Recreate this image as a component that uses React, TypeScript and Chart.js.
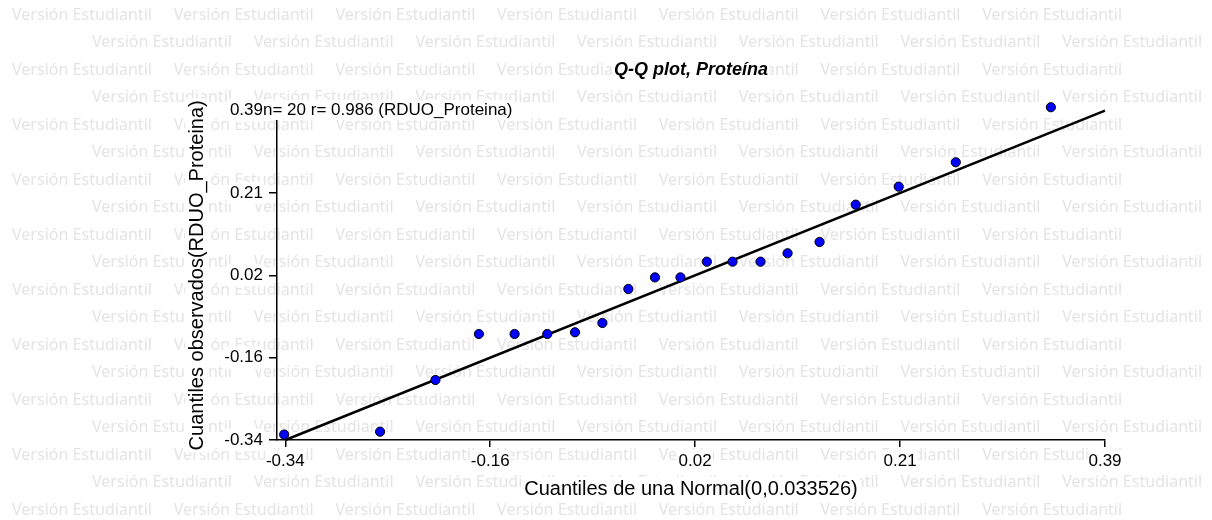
import { useEffect, useRef } from "react";
import { Chart, registerables } from "chart.js";

Chart.register(...registerables);

// ---- Data ----
const normalQuantiles = [
  -0.341, -0.2556, -0.2063, -0.1676, -0.1358, -0.1067, -0.082, -0.0576, -0.0345, -0.0108,
  0.0119, 0.0354, 0.0583, 0.0832, 0.1073, 0.1358, 0.168, 0.2063, 0.2571, 0.3418,
];
const observedQuantiles = [
  -0.328, -0.3216, -0.207, -0.105, -0.105, -0.105, -0.1012, -0.0806, -0.0052, 0.0205,
  0.0205, 0.0553, 0.0553, 0.0553, 0.074, 0.099, 0.1817, 0.2216, 0.2757, 0.3977,
];
const refLineX = [-0.34, 0.39];
const refLineY = [-0.34, 0.39];
const xTickValues = [-0.34, -0.1575, 0.025, 0.2075, 0.39];
const xTickLabels = ["-0.34", "-0.16", "0.02", "0.21", "0.39"];
const yTickValues = [-0.34, -0.1575, 0.025, 0.2075, 0.39];
const yTickLabels = ["-0.34", "-0.16", "0.02", "0.21", "0.39"];

const titleText = "Q-Q plot, Proteína";
const infoText = "n= 20 r= 0.986 (RDUO_Proteina)";
const xTitle = "Cuantiles de una Normal(0,0.033526)";
const yTitle = "Cuantiles observados(RDUO_Proteina)";
const watermarkText = "Versión Estudiantil";

const FONT = "'Liberation Sans', Arial, sans-serif";
const X_TITLE_Y = 489;

const watermarkPlugin = {
  id: "watermark",
  beforeDraw(chart: any) {
    const ctx = chart.ctx as CanvasRenderingContext2D;
    const W = chart.width;
    const H = chart.height;
    ctx.save();
    ctx.fillStyle = "#ffffff";
    ctx.fillRect(0, 0, W, H);
    ctx.font = `16px 'Noto Sans', sans-serif`;
    const w16 = ctx.measureText(watermarkText).width;
    const size = (16 * 140) / w16;
    ctx.font = `${size}px 'Noto Sans', sans-serif`;
    ctx.fillStyle = "rgb(228,228,228)";
    ctx.textBaseline = "middle";
    ctx.textAlign = "left";
    for (let r = 0; r < 19; r++) {
      const y = 15 + r * 27.5;
      const x0 = r % 2 === 0 ? 12 : 92;
      for (let c = 0; c < 7; c++) {
        ctx.fillText(watermarkText, x0 + c * 161.7, y);
      }
    }
    // white boxes behind the axis titles
    const ca = chart.chartArea;
    ctx.font = `20px ${FONT}`;
    const xw = ctx.measureText(xTitle).width;
    const cx = (ca.left + ca.right) / 2;
    ctx.fillStyle = "#ffffff";
    ctx.fillRect(cx - xw / 2 - 2, X_TITLE_Y - 12, xw + 4, 24);
    const yw = ctx.measureText(yTitle).width;
    const cy = (ca.top + ca.bottom) / 2;
    ctx.fillRect(197 - 12, cy - yw / 2 - 2, 24, yw + 4);
    ctx.restore();
  },
  afterDraw(chart: any) {
    const ctx = chart.ctx as CanvasRenderingContext2D;
    const ca = chart.chartArea;
    ctx.save();
    ctx.font = `italic bold 18px ${FONT}`;
    ctx.textBaseline = "middle";
    ctx.textAlign = "center";
    const tw = ctx.measureText(titleText).width;
    const tx = (ca.left + ca.right) / 2;
    ctx.fillStyle = "#ffffff";
    ctx.fillRect(tx - tw / 2 - 2, 70 - 10, tw + 4, 20);
    ctx.fillStyle = "#000000";
    ctx.fillText(titleText, tx, 70);
    ctx.font = `17px ${FONT}`;
    ctx.textAlign = "left";
    const iw = ctx.measureText(infoText).width;
    ctx.fillStyle = "#ffffff";
    ctx.fillRect(263, 110 - 10, iw + 2, 20);
    ctx.fillStyle = "#000000";
    ctx.fillText(infoText, 263, 110);
    ctx.restore();
  },
};

export default function App() {
  const canvasRef = useRef<HTMLCanvasElement | null>(null);

  useEffect(() => {
    const canvas = canvasRef.current;
    if (!canvas) return;
    const points = normalQuantiles.map((x, i) => ({ x, y: observedQuantiles[i] }));
    const line = refLineX.map((x, i) => ({ x, y: refLineY[i] }));

    const chart = new Chart(canvas, {
      type: "scatter",
      data: {
        datasets: [
          {
            type: "scatter",
            data: points,
            backgroundColor: "#0000ff",
            borderColor: "#000000",
            borderWidth: 1,
            pointRadius: 4.6,
            clip: false,
          } as any,
          {
            type: "line",
            data: line,
            borderColor: "#000000",
            borderWidth: 2.5,
            pointRadius: 0,
            fill: false,
            clip: false,
          } as any,
        ],
      },
      options: {
        animation: false,
        responsive: false,
        devicePixelRatio: 1,
        layout: { padding: { top: 110.7, right: 107, bottom: 0, left: 0 } },
        plugins: {
          legend: { display: false },
          tooltip: { enabled: false },
          title: { display: false },
        },
        scales: {
          x: {
            type: "linear",
            min: -0.3474,
            max: 0.39,
            afterBuildTicks: (s: any) => {
              s.ticks = xTickValues.map((v) => ({ value: v }));
            },
            afterFit: (s: any) => {
              s.height = 80;
            },
            ticks: {
              callback: (_v: any, i: number) => xTickLabels[i],
              font: { family: FONT, size: 17 },
              color: "#000",
              padding: 4,
              maxRotation: 0,
              autoSkip: false,
              showLabelBackdrop: true,
              backdropColor: "#ffffff",
              backdropPadding: 1,
            } as any,
            grid: {
              drawOnChartArea: false,
              drawTicks: true,
              tickLength: 7,
              color: "#000",
              lineWidth: 1.5,
            },
            border: { display: true, color: "#000", width: 1.5 },
            title: {
              display: true,
              text: xTitle,
              color: "#000",
              font: { family: FONT, size: 20 },
              padding: { top: 0, bottom: 520 - 12 - X_TITLE_Y },
            },
          },
          y: {
            type: "linear",
            min: -0.34,
            max: 0.39,
            afterBuildTicks: (s: any) => {
              s.ticks = yTickValues.map((v) => ({ value: v }));
            },
            afterFit: (s: any) => {
              s.width = 277;
            },
            ticks: {
              callback: (_v: any, i: number) => yTickLabels[i],
              font: { family: FONT, size: 17 },
              color: "#000",
              padding: 6,
              autoSkip: false,
              showLabelBackdrop: true,
              backdropColor: "#ffffff",
              backdropPadding: 1,
            } as any,
            grid: {
              drawOnChartArea: false,
              drawTicks: true,
              tickLength: 8,
              color: "#000",
              tickColor: (c: any) => (c.index === yTickValues.length - 1 ? "rgba(0,0,0,0)" : "#000"),
              lineWidth: 1.5,
            } as any,
            border: { display: true, color: "#000", width: 1.5 },
            title: {
              display: true,
              text: yTitle,
              color: "#000",
              font: { family: FONT, size: 20 },
              padding: { top: 185, bottom: 0 },
            },
          },
        },
      },
      plugins: [watermarkPlugin],
    });
    return () => chart.destroy();
  }, []);

  return (
    <div style={{ position: "fixed", left: 0, top: 0, width: 1212, height: 520 }}>
      <canvas ref={canvasRef} width={1212} height={520} style={{ display: "block" }} />
    </div>
  );
}
